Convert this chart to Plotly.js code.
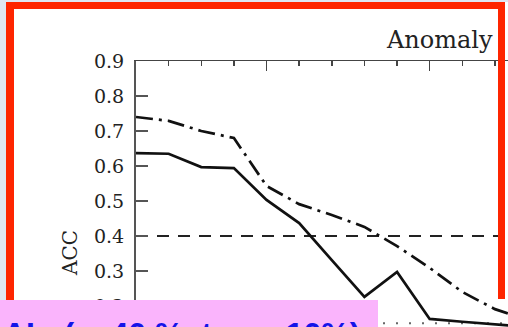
<!DOCTYPE html>
<html>
<head>
<meta charset="utf-8">
<script src="https://cdn.plot.ly/plotly-3.0.1.min.js"></script>
<style>html,body{margin:0;padding:0;background:#dfe6f2;}#chart{width:508px;height:327px;}</style>
</head>
<body>
<div id="chart"></div>
<script>
// Forecast step index (x positions along the top axis)
const steps = [0, 1, 2, 3, 4, 5, 6, 7, 8, 9, 10, 11, 12];
// Solid curve (ACC)
const accSolid = [0.637, 0.635, 0.597, 0.594, 0.503, 0.437, 0.331, 0.226, 0.297, 0.163, 0.155, 0.148, 0.140];
// Dash-dot curve (ACC)
const accDashDot = [0.740, 0.729, 0.700, 0.680, 0.543, 0.491, 0.460, 0.426, 0.371, 0.309, 0.240, 0.191, 0.160];
// Reference levels
const thresholdSteps = [0, 12];
const thresholdACC = [0.4, 0.4];
const dottedACC = [0.151, 0.151];
// Y tick values
const yTicks = [0.2, 0.3, 0.4, 0.5, 0.6, 0.7, 0.8, 0.9];

const L = 136, T = 61, W = 508, H = 327;
const pw = W - L, ph = H - T;
const px = x => (x - L) / pw;
const py = y => (H - y) / ph;

const traces = [
  {x: thresholdSteps, y: dottedACC, mode: 'lines', line: {color: '#666', width: 2, dash: '2px,11px'}, hoverinfo: 'skip', showlegend: false},
  {x: thresholdSteps, y: thresholdACC, mode: 'lines', line: {color: '#222', width: 2.2, dash: '12px,9px'}, showlegend: false},
  {x: steps, y: accDashDot, mode: 'lines', line: {color: '#111', width: 2.7, dash: '17px,6px,3px,6px'}, showlegend: false},
  {x: steps, y: accSolid, mode: 'lines', line: {color: '#111', width: 2.7}, showlegend: false}
];

const layout = {
  width: W, height: H,
  margin: {l: L, r: 0, t: T, b: 0, pad: 0},
  paper_bgcolor: '#dfe6f2',
  plot_bgcolor: 'rgba(0,0,0,0)',
  showlegend: false,
  xaxis: {
    range: [0, 11.4], side: 'top', showgrid: false, zeroline: false,
    showline: true, linecolor: '#444', linewidth: 1.5,
    ticks: 'inside', tickvals: [4, 9], ticklen: 10, tickwidth: 1.5, tickcolor: '#444',
    showticklabels: false,
    minor: {dtick: 1, tick0: 0, ticks: 'inside', ticklen: 5, tickwidth: 1.5, tickcolor: '#444', showgrid: false}
  },
  yaxis: {
    range: [0.14, 0.9], showgrid: false, zeroline: false,
    showline: true, linecolor: '#555', linewidth: 2,
    ticks: 'inside', tickvals: yTicks, ticklen: 12, tickwidth: 1.5, tickcolor: '#555',
    tickformat: '.1f', ticklabelstandoff: 6,
    tickfont: {family: 'DejaVu Serif', size: 19, color: '#222'}
  },
  shapes: [
    {type: 'rect', xref: 'paper', yref: 'paper', x0: px(6), x1: px(508), y0: py(327), y1: py(2), fillcolor: '#ffffff', line: {width: 0}, layer: 'below'},
    {type: 'rect', xref: 'paper', yref: 'paper', x0: px(6), x1: px(14), y0: py(300), y1: py(2), fillcolor: '#fe2500', line: {width: 0}, layer: 'above'},
    {type: 'rect', xref: 'paper', yref: 'paper', x0: px(6), x1: px(505), y0: py(9), y1: py(2), fillcolor: '#fe2500', line: {width: 0}, layer: 'above'},
    {type: 'rect', xref: 'paper', yref: 'paper', x0: px(498), x1: px(505), y0: py(299), y1: py(2), fillcolor: '#fe2500', line: {width: 0}, layer: 'above'},
    {type: 'rect', xref: 'paper', yref: 'paper', x0: px(0), x1: px(378), y0: py(335), y1: py(300), fillcolor: '#fab4fc', line: {width: 0}, layer: 'above'}
  ],
  annotations: [
    {text: 'Anomaly', xref: 'paper', yref: 'paper', x: px(495), y: py(40), xanchor: 'right', yanchor: 'middle', showarrow: false,
     font: {family: 'DejaVu Serif', size: 24, color: '#222'}},
    {text: 'ACC', xref: 'paper', yref: 'paper', x: px(70), y: py(253), xanchor: 'center', yanchor: 'middle', textangle: -90, showarrow: false,
     font: {family: 'DejaVu Serif', size: 20, color: '#222'}},
    {text: 'AI:  (~  40 %  to  ~  10%)', xref: 'paper', yref: 'paper', x: px(1), y: py(313.5), xanchor: 'left', yanchor: 'top', showarrow: false,
     font: {family: 'Liberation Sans', size: 32, color: '#1414e8', weight: 'bold'}}
  ]
};

Plotly.newPlot('chart', traces, layout, {displayModeBar: false, staticPlot: true});
</script>
</body>
</html>
